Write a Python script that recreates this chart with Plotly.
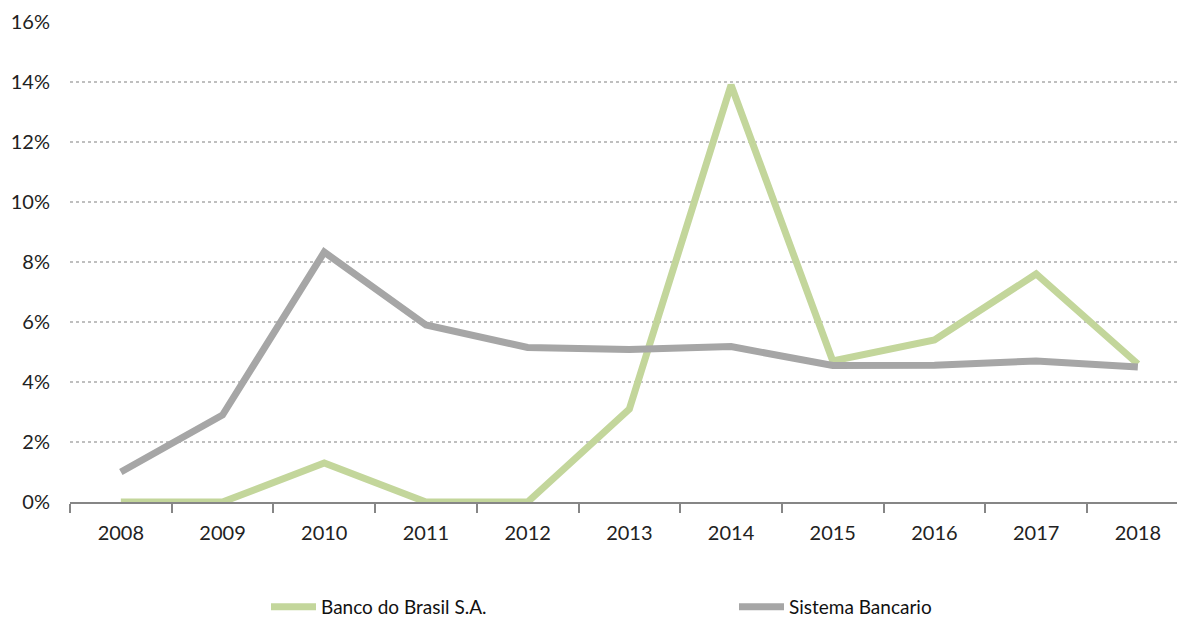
import plotly.graph_objects as go

years = ["2008", "2009", "2010", "2011", "2012", "2013", "2014", "2015", "2016", "2017", "2018"]
banco = [0.0, 0.0, 1.3, 0.0, 0.0, 3.1, 13.9, 4.7, 5.4, 7.6, 4.6]
sistema = [1.0, 2.9, 8.33, 5.9, 5.15, 5.08, 5.18, 4.55, 4.56, 4.7, 4.5]
y_ticks = [0, 2, 4, 6, 8, 10, 12, 14, 16]
y_tick_labels = [f"{v}%" for v in y_ticks]

fig = go.Figure()
fig.add_trace(go.Scatter(x=years, y=banco, mode="lines", name="Banco do Brasil S.A.",
                         line=dict(color="#C3D69B", width=7), legend="legend"))
fig.add_trace(go.Scatter(x=years, y=sistema, mode="lines", name="Sistema Bancario",
                         line=dict(color="#A6A6A6", width=7), legend="legend2"))

font = dict(family="Lato, 'Open Sans', sans-serif", size=20, color="#222222")
leg_font = dict(family="Lato, 'Open Sans', sans-serif", size=19, color="#111111")

fig.update_layout(
    width=1177, height=626,
    margin=dict(l=70, r=0, t=22, b=124, autoexpand=False),
    paper_bgcolor="white", plot_bgcolor="white",
    font=font,
    showlegend=True,
    legend=dict(orientation="h", x=(266 - 70) / 1107, y=-0.0, xanchor="left", yanchor="bottom",
                yref="container", font=leg_font, itemwidth=45, bgcolor="rgba(0,0,0,0)"),
    legend2=dict(orientation="h", x=(734 - 70) / 1107, y=0.0, xanchor="left", yanchor="bottom",
                 yref="container", font=leg_font, itemwidth=45, bgcolor="rgba(0,0,0,0)"),
    xaxis=dict(type="category", range=[-0.5, -0.5 + 1107 / 101.7], showgrid=False,
               showline=True, linecolor="#868686", linewidth=2,
               ticks="outside", tickson="boundaries", ticklen=9, tickcolor="#868686", tickwidth=2,
               tickfont=font, ticklabelstandoff=12, fixedrange=True),
    yaxis=dict(range=[0, 16], tickvals=y_ticks, ticktext=y_tick_labels,
               showgrid=True, gridcolor="#BFBFBF", griddash="dot", gridwidth=1.5,
               zeroline=False, showline=False, ticks="", tickfont=font, ticklabelstandoff=19),
)

fig.write_html("out.html")
